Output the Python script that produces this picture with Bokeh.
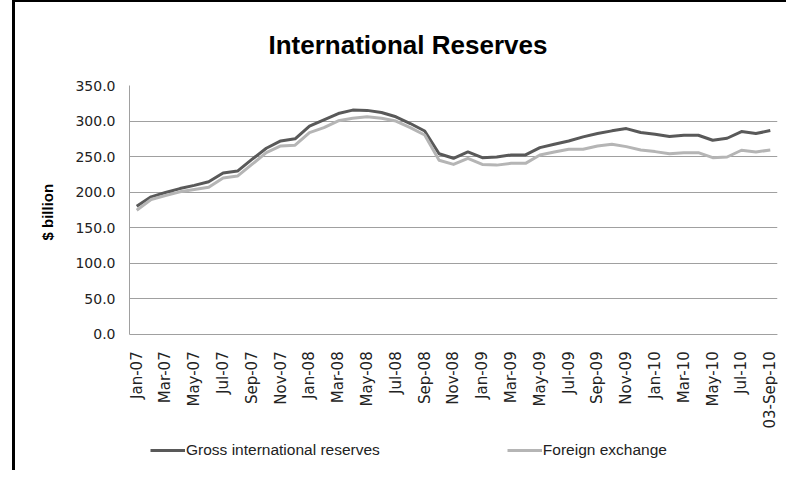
import math
from bokeh.plotting import figure
from bokeh.models import Range1d, FixedTicker, NumeralTickFormatter, Legend, LegendItem, ColumnDataSource, Title
from bokeh.embed import file_html
from bokeh.resources import INLINE

months = ["Jan-07", "Feb-07", "Mar-07", "Apr-07", "May-07", "Jun-07", "Jul-07", "Aug-07", "Sep-07", "Oct-07", "Nov-07", "Dec-07",
          "Jan-08", "Feb-08", "Mar-08", "Apr-08", "May-08", "Jun-08", "Jul-08", "Aug-08", "Sep-08", "Oct-08", "Nov-08", "Dec-08",
          "Jan-09", "Feb-09", "Mar-09", "Apr-09", "May-09", "Jun-09", "Jul-09", "Aug-09", "Sep-09", "Oct-09", "Nov-09", "Dec-09",
          "Jan-10", "Feb-10", "Mar-10", "Apr-10", "May-10", "Jun-10", "Jul-10", "Aug-10", "03-Sep-10"]

gross = [180.2, 193.4, 199.5, 205.0, 209.5, 214.6, 226.8, 229.6, 246.0, 261.7, 272.0, 275.0, 293.0, 301.7, 310.6,
         315.4, 315.0, 312.0, 306.0, 296.5, 286.0, 254.0, 247.6, 256.5, 248.5, 249.4, 252.3, 252.3, 262.6, 267.4,
         272.0, 277.7, 282.4, 286.2, 289.4, 283.8, 281.5, 278.2, 280.0, 280.0, 273.0, 275.8, 285.2, 282.4, 286.6]

fx = [174.6, 189.6, 195.3, 200.4, 203.8, 207.0, 220.0, 222.6, 239.0, 255.5, 265.0, 266.0, 283.8, 290.8, 300.3,
      304.0, 306.0, 304.0, 300.0, 290.8, 280.4, 244.8, 239.0, 247.6, 239.0, 238.0, 240.5, 240.5, 252.3, 256.5,
      260.3, 260.3, 265.0, 267.4, 264.0, 259.3, 257.0, 254.0, 255.5, 255.5, 248.5, 249.4, 258.9, 256.5, 259.3]

y_ticks = [0, 50, 100, 150, 200, 250, 300, 350]
series_names = ["Gross international reserves", "Foreign exchange"]

idx = list(range(len(months)))
src = ColumnDataSource(dict(x=idx, gross=gross, fx=fx))

# the frame extends below zero to leave room for the legend; axes are bounded to 0..350
p = figure(frame_width=648, frame_height=385, output_backend="svg", toolbar_location=None,
           x_range=Range1d(-0.5, len(months) - 0.5), y_range=Range1d(-191.6, 350),
           min_border_left=114, min_border_right=9, min_border_top=82, min_border_bottom=0,
           title="International Reserves")
p.styles = {"border-top": "2px solid black", "border-left": "3px solid black",
            "margin-left": "12px", "margin-top": "0px"}

p.title.text_font = "Liberation Sans"
p.title.text_font_size = "26px"
p.title.text_font_style = "bold"
p.title.text_color = "#000000"
p.title.align = "left"
p.title.offset = 139
p.title.standoff = 51

p.outline_line_color = None
p.background_fill_color = "white"
p.border_fill_color = "white"

l1 = p.line("x", "gross", source=src, line_color="#595959", line_width=3, line_join="round")
l2 = p.line("x", "fx", source=src, line_color="#b5b5b5", line_width=3, line_join="round")

xa = p.xaxis[0]
xa.fixed_location = 0
xa.ticker = FixedTicker(ticks=idx[::2])
xa.major_label_overrides = {i: months[i] for i in idx[::2]}
xa.major_label_orientation = math.pi / 2
xa.major_label_text_font = "DejaVu Sans"
xa.major_label_text_font_size = "15px"
xa.major_label_text_color = "#222222"
xa.major_tick_line_color = None
xa.minor_tick_line_color = None
xa.major_tick_out = 0
xa.major_tick_in = 0
xa.major_label_standoff = 17
xa.axis_line_color = "#a0a0a0"

ya = p.yaxis[0]
ya.bounds = (y_ticks[0], y_ticks[-1])
ya.ticker = FixedTicker(ticks=y_ticks)
ya.formatter = NumeralTickFormatter(format="0.0")
ya.major_label_text_font = "DejaVu Sans"
ya.major_label_text_font_size = "14px"
ya.major_label_text_color = "#222222"
ya.major_tick_line_color = None
ya.minor_tick_line_color = None
ya.major_tick_out = 0
ya.major_tick_in = 0
ya.major_label_standoff = 14
ya.axis_line_color = "#a0a0a0"

# y-axis title placed beside the 0..350 part of the axis
ytitle = Title(text="$ billion", align="left", offset=230, standoff=34,
               text_font="Liberation Sans", text_font_size="15px",
               text_font_style="bold", text_color="#000000")
p.add_layout(ytitle, "left")

p.xgrid.grid_line_color = None
p.ygrid.grid_line_color = "#a0a0a0"
p.ygrid.grid_line_width = 1

legend = Legend(items=[LegendItem(label=series_names[0], renderers=[l1]),
                       LegendItem(label=series_names[1], renderers=[l2])],
                orientation="horizontal", location=(21, 11))
legend.label_text_font = "Liberation Sans"
legend.label_text_font_size = "15.5px"
legend.label_text_color = "#222222"
legend.label_height = 16
legend.glyph_height = 16
legend.glyph_width = 35
legend.label_standoff = 1
legend.spacing = 127
legend.padding = 0
legend.margin = 0
legend.border_line_color = None
legend.background_fill_alpha = 0
p.add_layout(legend, "center")

open("out.html", "w").write(file_html(p, INLINE))
